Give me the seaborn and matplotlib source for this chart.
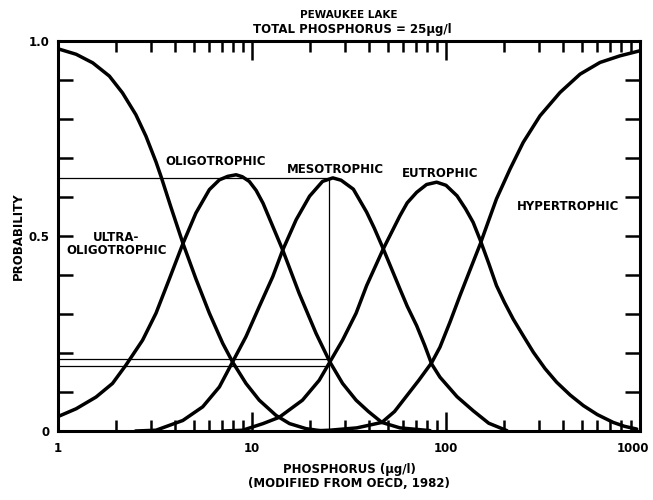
#!/usr/bin/env python3
"""
Trophic state probability curves for Pewaukee Lake (OECD 1982 style).
Total phosphorus on a log axis vs probability of each trophic class.
"""

import numpy as np
import pandas as pd
import matplotlib
matplotlib.use("Agg")
import matplotlib.pyplot as plt
import matplotlib.transforms as mtransforms
import seaborn as sns
from matplotlib.ticker import FuncFormatter, LogLocator, MultipleLocator, NullFormatter

# =============================================================================
# Data
# =============================================================================

ULTRA_P = [1.0, 1.24, 1.51, 1.84, 2.15, 2.52, 2.84, 3.20, 3.40, 3.82, 4.40, 5.14,
           6.03, 7.06, 7.94, 9.31, 10.9, 13.3, 15.6, 19.0, 23.1]
ULTRA_PROB = [0.98, 0.966, 0.944, 0.91, 0.867, 0.811, 0.756, 0.69, 0.652, 0.574, 0.482, 0.39,
              0.302, 0.225, 0.177, 0.122, 0.079, 0.040, 0.019, 0.006, 0.0]

OLIGO_P = [1.0, 1.24, 1.57, 1.91, 2.24, 2.73, 3.20, 3.75, 4.40, 5.14, 6.03, 6.79,
           7.50, 8.28, 8.91, 9.68, 10.5, 11.4, 14.4, 17.5, 21.4, 25.2, 29.3, 34.4,
           39.8, 46.7, 57.9, 82.8]
OLIGO_PROB = [0.037, 0.057, 0.087, 0.122, 0.169, 0.233, 0.302, 0.39, 0.48, 0.559, 0.619, 0.644,
              0.653, 0.657, 0.652, 0.640, 0.617, 0.584, 0.464, 0.353, 0.250, 0.177, 0.122, 0.079,
              0.05, 0.022, 0.008, 0.001]

MESO_P = [2.51, 3.20, 4.40, 5.57, 6.79, 7.94, 9.31, 10.9, 12.8, 14.4, 16.9, 19.8,
          23.1, 26.1, 28.8, 33.3, 39.0, 42.7, 47.5, 52.5, 57.9, 63.1, 70.6, 77.6,
          84.3, 93.1, 114, 138, 166, 206]
MESO_PROB = [0.0, 0.002, 0.027, 0.062, 0.113, 0.177, 0.242, 0.319, 0.396, 0.464, 0.542, 0.602,
             0.640, 0.649, 0.643, 0.62, 0.561, 0.52, 0.467, 0.415, 0.364, 0.32, 0.27, 0.22,
             0.172, 0.138, 0.088, 0.052, 0.02, 0.001]

EU_P = [7.08, 8.95, 11.4, 13.8, 18.2, 22.2, 25.2, 29.3, 34.4, 39.0, 47.5, 52.5,
        57.9, 63.1, 70.6, 79.4, 89.5, 100, 114, 126, 138, 150, 166, 182,
        200, 222, 251, 282, 324, 372, 437, 511, 603, 728, 832, 962]
EU_PROB = [0.0, 0.002, 0.019, 0.035, 0.079, 0.130, 0.177, 0.233, 0.302, 0.373, 0.467, 0.51,
           0.552, 0.585, 0.612, 0.632, 0.638, 0.63, 0.603, 0.57, 0.535, 0.49, 0.43, 0.373,
           0.33, 0.287, 0.243, 0.202, 0.16, 0.125, 0.092, 0.065, 0.042, 0.022, 0.012, 0.005]

HYPER_P = [20.0, 25.1, 34.7, 46.7, 54.3, 62.7, 72.4, 84.3, 93.1, 105, 118, 133,
           150, 166, 182, 214, 250, 305, 387, 491, 622, 789, 1000]
HYPER_PROB = [0.0, 0.002, 0.008, 0.022, 0.05, 0.09, 0.13, 0.175, 0.215, 0.28, 0.347, 0.413,
              0.479, 0.54, 0.595, 0.672, 0.74, 0.808, 0.868, 0.915, 0.945, 0.962, 0.975]

# Lake reading: total phosphorus 25 ug/l
LAKE_P = 25
LAKE_MESO = 0.65
LAKE_LOW = [0.185, 0.167]

Y_LABELS = {0.0: "0", 0.5: "0.5", 1.0: "1.0"}

# =============================================================================
# Build long table
# =============================================================================

curves = [
    ("ultra-oligotrophic", ULTRA_P, ULTRA_PROB),
    ("oligotrophic", OLIGO_P, OLIGO_PROB),
    ("mesotrophic", MESO_P, MESO_PROB),
    ("eutrophic", EU_P, EU_PROB),
    ("hypertrophic", HYPER_P, HYPER_PROB),
]
df = pd.concat(
    [pd.DataFrame({"phosphorus": p, "probability": prob, "state": name})
     for name, p, prob in curves],
    ignore_index=True,
)

# =============================================================================
# Plot
# =============================================================================

sns.set_style("ticks")
plt.rcParams["font.family"] = ["DejaVu Sans"]
plt.rcParams["font.weight"] = "bold"
for key in ["text.color", "axes.labelcolor", "xtick.color", "ytick.color"]:
    plt.rcParams[key] = "black"

fig = plt.figure(figsize=(6.53, 5.0), dpi=100)
ax = fig.add_axes([58 / 653, 69 / 500, 582 / 653, 390 / 500])

sns.lineplot(
    data=df, x="phosphorus", y="probability", units="state",
    estimator=None, color="black", linewidth=2.5, ax=ax,
    solid_joinstyle="round", solid_capstyle="round",
)

# lake reading lines
ax.hlines(LAKE_MESO, 1, LAKE_P, color="black", linewidth=0.9)
ax.vlines(LAKE_P, 0, LAKE_MESO, color="black", linewidth=0.9)
ax.hlines(LAKE_LOW, 1, LAKE_P, color="black", linewidth=0.9)

ax.set_xscale("log")
ax.set_xlim(1, 1000)
ax.set_ylim(0, 1)

# state labels
lab = dict(fontsize=8.5, fontweight="bold", ha="center", va="center")
ax.text(2.0, 0.48, "ULTRA-\nOLIGOTROPHIC", linespacing=1.0, **lab)
ax.text(6.5, 0.69, "OLIGOTROPHIC", **lab)
ax.text(27, 0.67, "MESOTROPHIC", **lab)
ax.text(93, 0.66, "EUTROPHIC", **lab)
ax.text(425, 0.575, "HYPERTROPHIC", **lab)

# ticks
ax.xaxis.set_major_locator(LogLocator(base=10))
ax.xaxis.set_major_formatter(FuncFormatter(lambda v, _: f"{v:g}"))
ax.xaxis.set_minor_locator(LogLocator(base=10, subs=np.arange(2, 10)))
ax.xaxis.set_minor_formatter(NullFormatter())
ax.yaxis.set_major_locator(MultipleLocator(0.1))
ax.yaxis.set_major_formatter(FuncFormatter(lambda v, _: Y_LABELS.get(round(v, 2), "")))

ax.tick_params(axis="both", which="both", direction="in", top=True, right=True,
               width=1.8, labelsize=8.5)
ax.tick_params(axis="y", which="major", length=11, pad=6)
ax.tick_params(axis="x", which="major", length=14, pad=8)
ax.tick_params(axis="x", which="minor", length=8)

for spine in ax.spines.values():
    spine.set_linewidth(2.2)
    spine.set_color("black")

ax.set_xlabel("PHOSPHORUS (µg/l)\n(MODIFIED FROM OECD, 1982)", fontsize=8.5,
              fontweight="bold", labelpad=6, linespacing=1.1)
ax.set_ylabel("PROBABILITY", fontsize=8.5, fontweight="bold", labelpad=3)

fig.text(349 / 653, 1 - 15 / 500, "PEWAUKEE LAKE", fontsize=7.5,
         fontweight="bold", ha="center", va="center")
fig.text(352 / 653, 1 - 30 / 500, "TOTAL PHOSPHORUS = 25µg/l", fontsize=8.5,
         fontweight="bold", ha="center", va="center")

# keep the last x tick label inside the canvas
fig.canvas.draw()
shift = mtransforms.ScaledTranslation(-5 / 72, 0, fig.dpi_scale_trans)
for label in ax.get_xticklabels():
    if label.get_text() == "1000":
        label.set_transform(label.get_transform() + shift)

fig.savefig("out.png", dpi=100)
print("saved out.png")
